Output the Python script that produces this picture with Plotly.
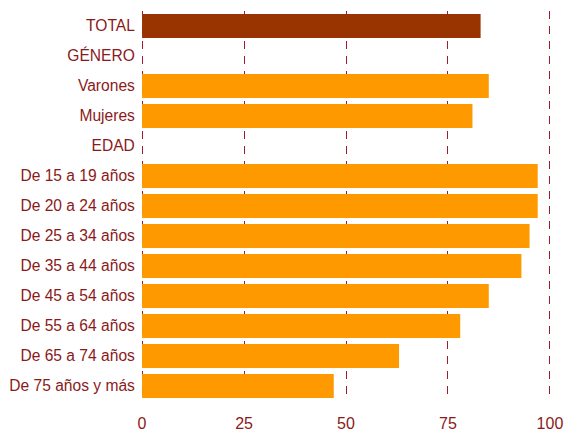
import plotly.graph_objects as go

categories = ["TOTAL", "GÉNERO", "Varones", "Mujeres", "EDAD",
              "De 15 a 19 años", "De 20 a 24 años", "De 25 a 34 años",
              "De 35 a 44 años", "De 45 a 54 años", "De 55 a 64 años",
              "De 65 a 74 años", "De 75 años y más"]
values = [83, None, 85, 81, None, 97, 97, 95, 93, 85, 78, 63, 47]
bar_colors = ["#993300"] + ["#FF9900"] * 12

x_ticks = [0, 25, 50, 75, 100]

text_color = "#8B1A1A"
grid_color = "#A01C2C"

fig = go.Figure(go.Bar(
    x=values, y=categories, orientation="h",
    marker=dict(color=bar_colors, line=dict(width=0)),
    hoverinfo="x+y",
))

fig.update_layout(
    width=565, height=434,
    margin=dict(l=140, r=13, t=11, b=33),
    paper_bgcolor="white", plot_bgcolor="white",
    bargap=0.2,
    showlegend=False,
    font=dict(family="Liberation Sans", size=15.6, color=text_color),
)
fig.update_xaxes(
    range=[-0.5, 100.5], tickvals=x_ticks, ticktext=[str(v) for v in x_ticks],
    showgrid=True, gridcolor=grid_color, gridwidth=1, griddash="8px,7px",
    zeroline=False, showline=False, ticks="outside", ticklen=8,
    tickcolor="rgba(0,0,0,0)", automargin=False,
    tickfont=dict(size=16, color=text_color),
)
fig.update_yaxes(
    autorange="reversed", showgrid=False, zeroline=False, showline=False,
    ticks="outside", ticklen=1, tickcolor="rgba(0,0,0,0)", automargin=False,
    tickfont=dict(size=15.6, color=text_color),
)

fig.write_html("out.html", config={"displayModeBar": False},
               post_script="document.body.style.margin='0';")
